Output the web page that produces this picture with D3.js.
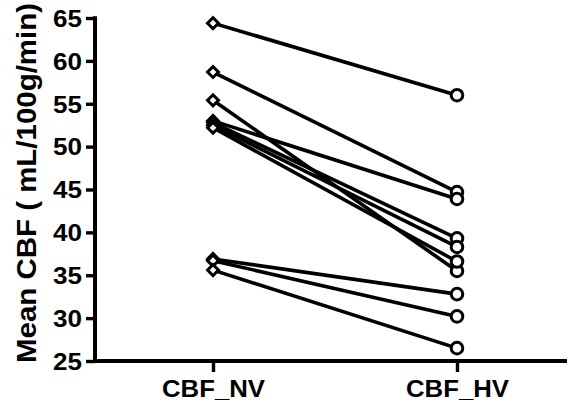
<!DOCTYPE html>
<html><head><meta charset="utf-8">
<script src="https://cdn.jsdelivr.net/npm/d3@7"></script>
<style>body{margin:0;background:#fff}svg{display:block}</style>
</head><body><svg id="c" width="571" height="403"></svg>
<script>
const categories = ["CBF_NV", "CBF_HV"];
const nvValues = [64.4, 58.7, 55.4, 53.0, 52.8, 52.5, 52.2, 36.9, 36.7, 35.6];
const hvValues = [56.0, 44.7, 35.5, 43.9, 39.3, 38.3, 36.6, 32.8, 30.2, 26.5];
const yTicks = [25, 30, 35, 40, 45, 50, 55, 60, 65];
const yTitle = "Mean CBF ( mL/100g/min)";

const svg = d3.select("#c");
const x = d3.scalePoint().domain(categories).range([213, 457]);
const y = d3.scaleLinear().domain([25, 65]).range([361, 18]);
const font = "Arial, 'Liberation Sans', sans-serif";

const pairs = nvValues.map((v, i) => [v, hvValues[i]]);
svg.append("g").selectAll("line").data(pairs).join("line")
  .attr("x1", x(categories[0])).attr("y1", d => y(d[0]))
  .attr("x2", x(categories[1])).attr("y2", d => y(d[1]))
  .attr("stroke", "#000").attr("stroke-width", 3.6);

const dsym = d3.symbol().type(d3.symbolSquare).size(60);
svg.append("g").selectAll("path").data(nvValues).join("path")
  .attr("d", dsym)
  .attr("transform", d => `translate(${x(categories[0])},${y(d)}) rotate(45)`)
  .attr("fill", "#fff").attr("stroke", "#000").attr("stroke-width", 3);

svg.append("g").selectAll("circle").data(hvValues).join("circle")
  .attr("cx", x(categories[1])).attr("cy", d => y(d)).attr("r", 5.8)
  .attr("fill", "#fff").attr("stroke", "#000").attr("stroke-width", 3);

const ya = svg.append("g").attr("transform", "translate(95,0)")
  .call(d3.axisLeft(y).tickValues(yTicks).tickSize(9).tickPadding(4).tickFormat(d3.format("d")));
ya.select(".domain").attr("d", `M0,${y(65) - 1.8}V${y(25) + 1.8}`)
  .attr("stroke", "#000").attr("stroke-width", 4);
ya.selectAll(".tick line").attr("stroke", "#000").attr("stroke-width", 3.4);
ya.selectAll("text").attr("font-family", font).attr("font-weight", "bold").attr("font-size", 23)
  .attr("fill", "#000").attr("dy", "0.36em")
  .attr("textLength", 29).attr("lengthAdjust", "spacingAndGlyphs");

const xa = svg.append("g").attr("transform", `translate(0,${y(25)})`)
  .call(d3.axisBottom(x).tickSize(11).tickPadding(19));
xa.select(".domain").attr("d", "M93,0H567")
  .attr("stroke", "#000").attr("stroke-width", 4);
xa.selectAll(".tick line").attr("stroke", "#000").attr("stroke-width", 3.4);
xa.selectAll("text").attr("font-family", font).attr("font-weight", "bold").attr("font-size", 23)
  .attr("fill", "#000").attr("dy", "0").attr("y", 36)
  .attr("textLength", 103).attr("lengthAdjust", "spacingAndGlyphs");

svg.append("text").attr("transform", `translate(36,183) rotate(-90) scale(1,1.1)`)
  .attr("text-anchor", "middle").attr("font-family", font).attr("font-weight", "bold")
  .attr("font-size", 25).attr("textLength", 360).attr("lengthAdjust", "spacingAndGlyphs")
  .text(yTitle);
</script></body></html>
